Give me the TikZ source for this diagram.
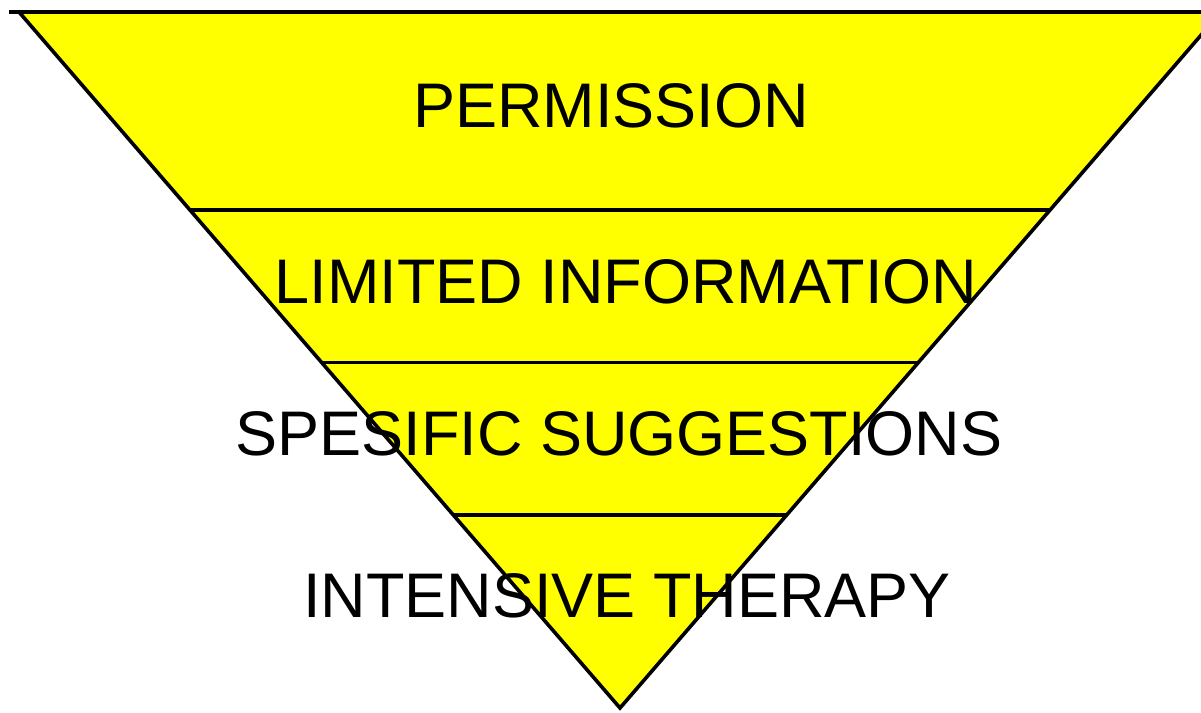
\documentclass[tikz,border=0pt]{standalone}
\usepackage{fontspec}
\setmainfont{Liberation Sans}
\usetikzlibrary{calc}
\definecolor{pyellow}{RGB}{255,255,0}
\tikzset{
  tri/.style={fill=pyellow, draw=black, line width=3.6pt, line join=miter},
  divider/.style={draw=black, line width=3.6pt},
  label/.style={anchor=base, inner sep=0pt, font=\fontsize{63}{70}\selectfont, text=black}
}
\begin{document}
\begin{tikzpicture}[x=1pt,y=-1pt]
\useasboundingbox (0,0) rectangle (1201,712);
\clip (0,0) rectangle (1201,712);
\coordinate (L) at (19,12);
\coordinate (R) at (1221,12);
\coordinate (A) at (620,708);
\coordinate (S) at (9,12);
\path[tri] (L) -- (R) -- (A) -- cycle;
\draw[divider] (S) -- (L);
\coordinate (l1) at ($(L)!0.2845!(A)$);
\coordinate (r1) at ($(R)!0.2845!(A)$);
\coordinate (l2) at ($(L)!0.5036!(A)$);
\coordinate (r2) at ($(R)!0.5036!(A)$);
\coordinate (l3) at ($(L)!0.7227!(A)$);
\coordinate (r3) at ($(R)!0.7227!(A)$);
\draw[divider] (l1) -- (r1);
\draw[divider] (l2) -- (r2);
\draw[divider] (l3) -- (r3);
\node[label] (t1) at (611,127) {PERMISSION};
\node[label] (t2) at (626,303) {LIMITED INFORMATION};
\node[label] (t3) at (619,455) {SPESIFIC SUGGESTIONS};
\node[label] (t4) at (627,617) {INTENSIVE THERAPY};
\end{tikzpicture}
\end{document}
